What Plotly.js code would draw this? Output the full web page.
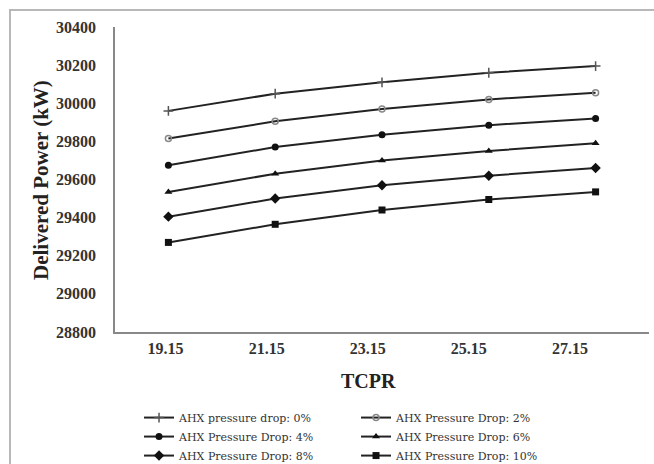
<!DOCTYPE html>
<html>
<head>
<meta charset="utf-8">
<script src="https://cdn.plot.ly/plotly-3.0.1.min.js"></script>
<style>
  html, body { margin: 0; padding: 0; background: #ffffff; }
  #frame { position: absolute; left: 9px; top: 9px; width: 700px; height: 500px;
           border-left: 2px solid #b8b8b8; border-top: 2px solid #b8b8b8; }
  #chart { position: absolute; left: 0; top: 0; width: 654px; height: 464px; }
</style>
</head>
<body>
<div id="frame"></div>
<div id="chart"></div>
<script>
const categories = ['19.15', '21.15', '23.15', '25.15', '27.15'];
const seriesNames = [
  'AHX pressure drop: 0%',
  'AHX Pressure Drop: 2%',
  'AHX Pressure Drop: 4%',
  'AHX Pressure Drop: 6%',
  'AHX Pressure Drop: 8%',
  'AHX Pressure Drop: 10%'
];
const drop0  = [29960, 30050, 30110, 30160, 30195];
const drop2  = [29815, 29905, 29970, 30020, 30055];
const drop4  = [29675, 29770, 29835, 29885, 29920];
const drop6  = [29535, 29630, 29700, 29750, 29790];
const drop8  = [29405, 29500, 29570, 29620, 29660];
const drop10 = [29270, 29365, 29440, 29495, 29535];
const yTicks = [28800, 29000, 29200, 29400, 29600, 29800, 30000, 30200, 30400];

const allSeries = [drop0, drop2, drop4, drop6, drop8, drop10];
const markerStyles = [
  {symbol: 'cross-thin-open', size: 7, color: '#555', line: {width: 1.5, color: '#555'}},
  {symbol: 'circle-open', size: 6, color: '#888', line: {width: 1.5, color: '#888'}},
  {symbol: 'circle', size: 7, color: '#111'},
  {symbol: 'triangle-up', size: 7, color: '#111'},
  {symbol: 'diamond', size: 8, color: '#111'},
  {symbol: 'square', size: 7, color: '#111'}
];

const traces = allSeries.map((vals, i) => ({
  type: 'scatter',
  mode: 'lines+markers',
  name: seriesNames[i],
  x: categories,
  y: vals,
  xaxis: 'x',
  yaxis: 'y',
  line: {color: '#222', width: 2},
  marker: markerStyles[i]
}));

// label axis carrying the category tick labels
traces.push({
  type: 'scatter', mode: 'none', x: categories, y: drop0,
  xaxis: 'x2', yaxis: 'y', showlegend: false, hoverinfo: 'skip'
});

const tickFont = {family: 'Liberation Serif, Times New Roman, serif', size: 16, color: '#333', weight: 'bold'};

const layout = {
  width: 654, height: 464,
  paper_bgcolor: 'rgba(0,0,0,0)',
  plot_bgcolor: 'rgba(0,0,0,0)',
  margin: {l: 115, r: 5, t: 27, b: 132, autoexpand: false},
  showlegend: true,
  xaxis: {
    type: 'category', categoryarray: categories, range: [-0.5, 4.5],
    showticklabels: false, ticks: '', showgrid: false, zeroline: false,
    showline: true, linecolor: '#888', linewidth: 1.5
  },
  xaxis2: {
    type: 'category', categoryarray: categories, range: [-0.5, 4.5],
    anchor: 'y', side: 'bottom', domain: [0, 0.9466],
    showline: false, showgrid: false, zeroline: false, ticks: '',
    tickfont: tickFont, ticklabelstandoff: 5
  },
  yaxis: {
    range: [28800, 30400], tickvals: yTicks, ticktext: yTicks.map(String),
    showgrid: false, zeroline: false, showline: true, linecolor: '#888', linewidth: 1.5,
    ticks: '', tickfont: tickFont, ticklabelstandoff: 14
  },
  legend: {
    orientation: 'h', x: 0.045, xanchor: 'left', y: -0.233, yanchor: 'top',
    entrywidth: 172, entrywidthmode: 'pixels',
    font: {family: 'DejaVu Serif, serif', size: 11, color: '#333'},
    bgcolor: 'rgba(0,0,0,0)'
  },
  annotations: [
    {text: 'TCPR', xref: 'paper', yref: 'paper', x: (368 - 115) / 534, y: (332 - 381) / 305,
     showarrow: false, xanchor: 'center', yanchor: 'middle',
     font: {family: 'Liberation Serif, Times New Roman, serif', size: 20, color: '#222', weight: 'bold'}},
    {text: 'Delivered Power (kW)', xref: 'paper', yref: 'paper', x: (41 - 115) / 534, y: (332 - 180) / 305,
     showarrow: false, xanchor: 'center', yanchor: 'middle', textangle: -90,
     font: {family: 'Liberation Serif, Times New Roman, serif', size: 21, color: '#222', weight: 'bold'}}
  ]
};

Plotly.newPlot('chart', traces, layout, {displayModeBar: false, responsive: false});
</script>
</body>
</html>
